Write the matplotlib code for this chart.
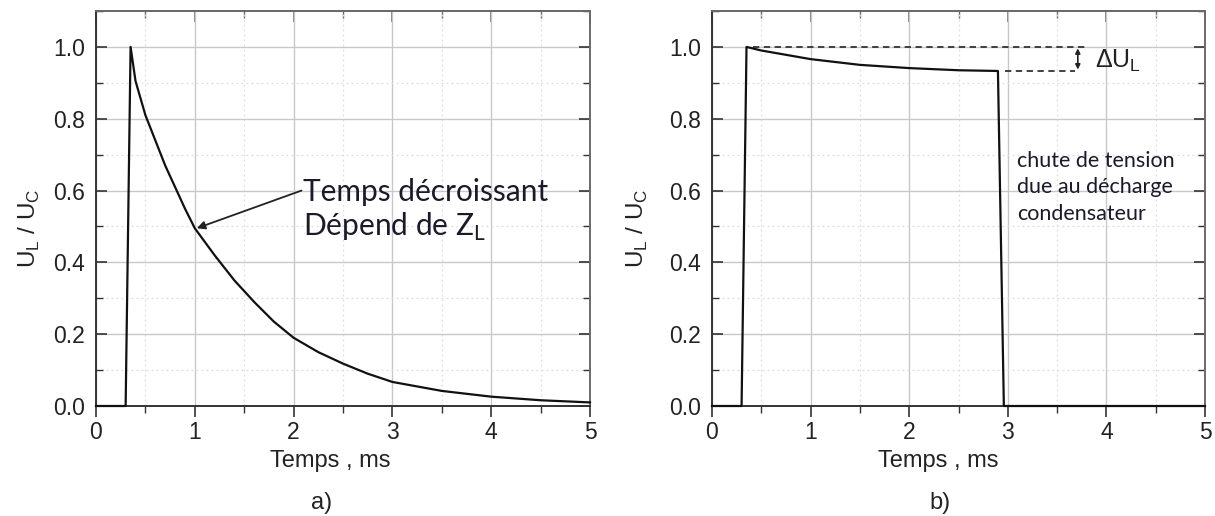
import matplotlib
matplotlib.use("Agg")
import matplotlib.pyplot as plt
from matplotlib.ticker import MultipleLocator

# ---- data ----
t_a = [0.0, 0.30, 0.35, 0.40, 0.50, 0.60, 0.70, 0.80, 0.90, 1.00, 1.20, 1.40, 1.60,
       1.80, 2.00, 2.25, 2.50, 2.75, 3.00, 3.50, 4.00, 4.50, 5.00]
u_a = [0.0, 0.0, 1.00, 0.905, 0.81, 0.74, 0.67, 0.61, 0.55, 0.495, 0.42, 0.35, 0.29,
       0.235, 0.19, 0.15, 0.118, 0.09, 0.067, 0.042, 0.026, 0.016, 0.010]

t_b = [0.0, 0.30, 0.35, 0.50, 0.75, 1.00, 1.50, 2.00, 2.50, 2.90, 2.96, 5.00]
u_b = [0.0, 0.0, 1.00, 0.99, 0.978, 0.966, 0.950, 0.941, 0.935, 0.933, 0.0, 0.0]

x_ticks = [0, 1, 2, 3, 4, 5]
y_ticks = [0.0, 0.2, 0.4, 0.6, 0.8, 1.0]
panel_labels = ["a)", "b)"]
xlabel = "Temps , ms"
ylabel = r"U$_\mathregular{L}$ / U$_\mathregular{C}$"

# annotation values
ann_a_tip = (1.02, 0.495)
ann_a_tail = (2.08, 0.60)
ref_level_b = 1.0
end_level_b = 0.933

plt.rcParams['font.family'] = ['Liberation Sans', 'DejaVu Sans']
plt.rcParams['mathtext.fontset'] = 'custom'
plt.rcParams['mathtext.rm'] = 'Liberation Sans'
fig = plt.figure(figsize=(12.15, 5.16), dpi=100)

ax_a = fig.add_axes([96/1215, 1-406/516, 494/1215, 395/516])
ax_b = fig.add_axes([712/1215, 1-406/516, 493/1215, 395/516])

tick_col = '#222222'
layout = {
    'a': dict(xl=(0.474, -0.112), yl=(-0.109, 0.45), pl=(0.457, -0.246)),
    'b': dict(xl=(0.458, -0.112), yl=(-0.126, 0.45), pl=(0.462, -0.246)),
}
for ax, lab, key, t, u in [(ax_a, panel_labels[0], 'a', t_a, u_a),
                           (ax_b, panel_labels[1], 'b', t_b, u_b)]:
    L = layout[key]
    ax.set_xlim(0, 5)
    ax.set_ylim(0, 1.1)
    ax.xaxis.set_major_locator(MultipleLocator(1))
    ax.xaxis.set_minor_locator(MultipleLocator(0.5))
    ax.yaxis.set_major_locator(MultipleLocator(0.2))
    ax.yaxis.set_minor_locator(MultipleLocator(0.1))
    ax.set_xticks(x_ticks)
    ax.set_yticks(y_ticks)
    ax.set_yticklabels([f"{v:.1f}" for v in y_ticks])
    ax.grid(which='major', color='#c8c8c8', lw=1.0, ls='-')
    ax.grid(which='minor', color='#dedede', lw=0.9, ls=(0, (1.5, 2.5)))
    ax.set_axisbelow(True)
    ax.plot(t, u, color='#111111', lw=1.6, zorder=5, clip_on=False)
    ax.tick_params(axis='y', which='both', direction='in', left=True, right=True,
                   labelsize=16.5, labelcolor=tick_col, color='#333333', pad=8)
    ax.tick_params(axis='x', which='both', direction='out', bottom=True,
                   labelsize=16.5, labelcolor=tick_col, color='#333333', pad=3)
    ax.tick_params(which='major', length=8, width=1.2)
    ax.tick_params(which='minor', length=5, width=1.0)
    ax.tick_params(axis='x', which='both', top=False)
    ax.secondary_xaxis('top').tick_params(which='both', direction='in', labeltop=False)
    for s in ['left', 'bottom']:
        ax.spines[s].set_color('#333333')
        ax.spines[s].set_linewidth(1.4)
    for s in ['top', 'right']:
        ax.spines[s].set_color('#6a6a6a')
        ax.spines[s].set_linewidth(1.4)
    ax.set_xlabel(xlabel, fontsize=17, color=tick_col)
    ax.xaxis.set_label_coords(*L['xl'])
    ax.set_ylabel(ylabel, fontsize=17.5, color=tick_col)
    ax.yaxis.set_label_coords(*L['yl'])
    ax.text(*L['pl'], lab, transform=ax.transAxes, ha='center', va='center',
            fontsize=17, color=tick_col)

# top secondary axis tick config
for ax in [ax_a, ax_b]:
    for child in ax.child_axes:
        child.xaxis.set_major_locator(MultipleLocator(1))
        child.xaxis.set_minor_locator(MultipleLocator(0.5))
        child.tick_params(which='major', length=8, width=1.2, color='#6a6a6a')
        child.tick_params(which='minor', length=5, width=1.0, color='#6a6a6a')
        child.spines['top'].set_color('#6a6a6a')
        child.spines['top'].set_linewidth(1.4)

ann_font = ['Lato', 'DejaVu Sans']
txt_col = '#1a1a2a'
# panel a annotation
ax_a.annotate('', xy=ann_a_tip, xytext=ann_a_tail,
              arrowprops=dict(arrowstyle='-|>', color='#222222', lw=1.3,
                              mutation_scale=12, shrinkA=0, shrinkB=0))
ax_a.text(ann_a_tail[0] + 0.02, ann_a_tail[1] - 0.003, 'Temps décroissant', fontsize=21.5,
          family=ann_font, color=txt_col, va='center', ha='left')
ax_a.text(ann_a_tail[0] + 0.02, 0.50, r'Dépend de Z$_\mathregular{L}$', fontsize=21.5,
          family=ann_font, color=txt_col, va='center', ha='left')

# panel b annotations
ax_b.plot([0.42, 3.80], [ref_level_b, ref_level_b], color='#333333', lw=1.3,
          ls=(0, (3.5, 2.5)), zorder=4)
ax_b.plot([2.97, 3.68], [end_level_b, end_level_b], color='#333333', lw=1.3,
          ls=(0, (3.5, 2.5)), zorder=4)
ax_b.annotate('', xy=(3.71, ref_level_b - 0.004), xytext=(3.71, end_level_b + 0.004),
              arrowprops=dict(arrowstyle='<|-|>', color='#222222', lw=1.2,
                              mutation_scale=7, shrinkA=0, shrinkB=0))
ax_b.text(3.88, 0.962, r'$\Delta$U$_\mathregular{L}$', fontsize=18, color=tick_col,
          va='center', ha='left')
for i, line in enumerate(['chute de tension', 'due au décharge', 'condensateur']):
    ax_b.text(3.09, 0.682 - i * 0.0735, line, fontsize=15.5, family=ann_font,
              color=txt_col, va='center', ha='left')

fig.savefig('out.png', dpi=100)
